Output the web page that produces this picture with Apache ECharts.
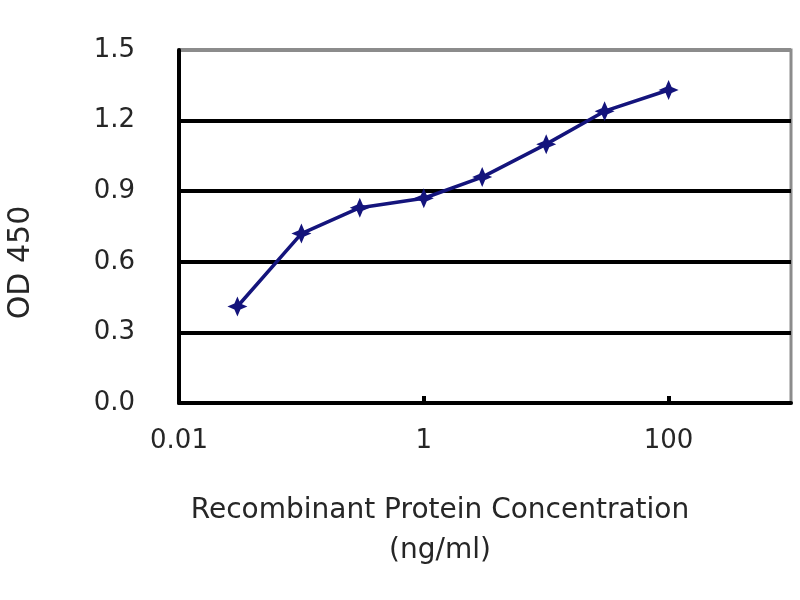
<!DOCTYPE html>
<html>
<head>
<meta charset="utf-8">
<script src="https://cdn.jsdelivr.net/npm/echarts@6/dist/echarts.min.js"></script>
<style>
  html, body { margin: 0; padding: 0; background: #fff; }
  #chart { width: 800px; height: 600px; }
</style>
</head>
<body>
<div id="chart"></div>
<script>
const concentrations = [0.03, 0.1, 0.3, 1, 3, 10, 30, 100];
const od450 = [0.41, 0.72, 0.83, 0.87, 0.96, 1.10, 1.24, 1.33];
const yTicks = [0.0, 0.3, 0.6, 0.9, 1.2, 1.5];
const xTickLabels = ['0.01', '1', '100'];
const xName = 'Recombinant Protein Concentration\n(ng/ml)';
const yName = 'OD 450';

const seriesData = concentrations.map((c, i) => [c, od450[i]]);
const font = 'DejaVu Sans';
const textColor = '#262626';

const chart = echarts.init(document.getElementById('chart'));
chart.setOption({
  backgroundColor: '#fff',
  animation: false,
  grid: {
    left: 179, right: 9, top: 50, bottom: 197,
    containLabel: false,
    outerBoundsMode: 'none',
    show: true, borderColor: '#8c8c8c', borderWidth: 3, backgroundColor: 'transparent'
  },
  xAxis: {
    type: 'log',
    logBase: 100,
    min: 0.01,
    max: 1000,
    splitNumber: 2,
    name: xName,
    nameLocation: 'middle',
    nameGap: 88,
    nameTextStyle: { fontFamily: font, fontSize: 28, color: textColor, lineHeight: 40, padding: [0, 90, 0, 0] },
    axisLine: { show: true, lineStyle: { color: '#000', width: 4 } },
    axisTick: { show: true, inside: true, length: 7, lineStyle: { color: '#000', width: 4 } },
    axisLabel: {
      fontFamily: font, fontSize: 26, color: textColor, margin: 25,
      showMaxLabel: false,
      formatter: function (v) {
        const s = String(+v.toPrecision(6));
        return xTickLabels.indexOf(s) >= 0 ? s : '';
      }
    },
    splitLine: { show: false }
  },
  yAxis: {
    type: 'value',
    min: yTicks[0],
    max: yTicks[yTicks.length - 1],
    interval: 0.3,
    name: yName,
    nameLocation: 'middle',
    nameGap: 143,
    nameTextStyle: { fontFamily: font, fontSize: 30, color: textColor, padding: [0, 72, 0, 0] },
    axisLine: { show: true, lineStyle: { color: '#000', width: 4 } },
    axisTick: { show: false },
    axisLabel: {
      fontFamily: font, fontSize: 26, color: textColor, margin: 44,
      formatter: v => v.toFixed(1)
    },
    splitLine: {
      show: true,
      lineStyle: { color: ['#000', '#000', '#000', '#000', '#000', '#8c8c8c'], width: 4 }
    }
  },
  series: [{
    type: 'line',
    data: seriesData,
    symbol: 'path://M0,-10 L3,-3 L10,0 L3,3 L0,10 L-3,3 L-10,0 L-3,-3 Z',
    symbolSize: 20,
    showAllSymbol: true,
    itemStyle: { color: '#14147c' },
    lineStyle: { color: '#14147c', width: 3.5 }
  }]
});
</script>
</body>
</html>
